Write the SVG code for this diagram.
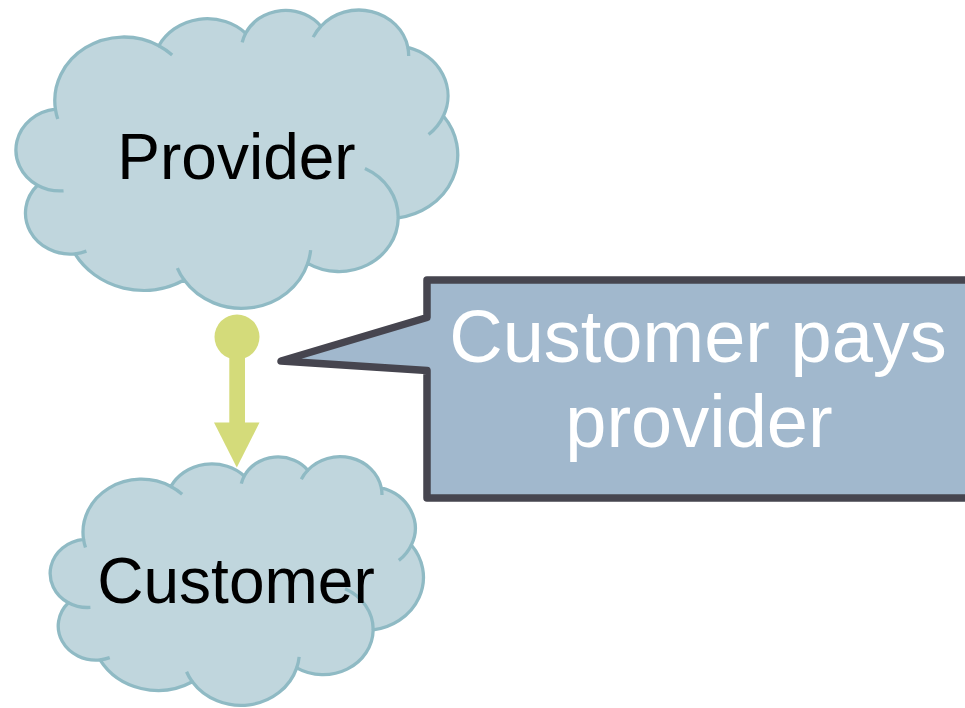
<svg xmlns="http://www.w3.org/2000/svg" xmlns:xlink="http://www.w3.org/1999/xlink" width="965" height="708" viewBox="0 0 965 708">
<style>
.cloud{fill:#c0d6dd;stroke:#8fbac4;stroke-width:3.3;vector-effect:non-scaling-stroke;stroke-linejoin:round}
.cloudline{fill:none;stroke:#8fbac4;stroke-width:3.3;vector-effect:non-scaling-stroke}
.lbl{font-family:"Liberation Sans",Arial,sans-serif;font-size:64px;fill:#000;text-anchor:middle}
.call{font-family:"Liberation Sans",Arial,sans-serif;font-size:74px;fill:#ffffff;text-anchor:middle}
.conn{fill:#d4db7a;stroke:none}
</style>
<defs>
<g id="cloudShape">
<path class="cloud" d="M39,143.7 A67.53,91.9 0 0 1 140,51.92 A53.33,72.67 0 0 1 224.8,33.8 A43.65,59.45 0 0 1 298.35,23.8 A48.57,65.95 0 0 1 383.24,54.26 A53.33,72.73 0 0 1 417.98,153.54 A67.75,92.2 0 0 1 373.83,300.93 A57.85,78.67 0 0 1 285.43,366.7 A67.52,92.15 0 0 1 164.78,390.9 A77.2,105.43 0 0 1 58.1,352.88 A43.6,59.18 0 0 1 21.45,253.7 A43.45,59.45 0 0 1 39,143.7 Z"/>
<path class="cloudline" d="M46.93,261.77 A43.45,59.45 0 0 1 21.45,253.7 M69.28,348.99 A43.6,59.18 0 0 1 58.1,352.88 M164.78,390.9 A67.52,92.15 0 0 1 158.1,373.49 M288.27,347.51 A67.52,92.15 0 0 1 285.43,366.7 M341.29,229.54 A57.85,78.67 0 0 1 373.83,300.93 M417.98,153.54 A53.33,72.73 0 0 1 403.5,180.3 M383.24,54.26 A48.57,65.95 0 0 1 384.01,66.9 M290.78,39.52 A48.57,65.95 0 0 1 298.35,23.8 M221.41,47.2 A43.65,59.45 0 0 1 224.8,33.8 M140,51.92 A67.53,91.9 0 0 1 153.01,65.42 M41.27,157.89 A67.53,91.9 0 0 1 39,143.7"/>
</g>
</defs>
<g id="provider">
<use xlink:href="#cloudShape" href="#cloudShape" transform="translate(15.5,9.8) scale(1.0238,0.6914)"/>
<text class="lbl" x="236.5" y="179">Provider</text>
</g>
<g id="customer">
<use xlink:href="#cloudShape" href="#cloudShape" transform="translate(49.8,456.5) scale(0.865,0.5764)"/>
<text class="lbl" x="236" y="603">Customer</text>
</g>
<g id="connectors">
<circle class="conn" cx="237" cy="337" r="22.5"/>
<rect class="conn" x="229.3" y="350" width="15.7" height="73"/>
<polygon class="conn" points="214,422.5 259.5,422.5 236.8,467.5"/>
</g>
<g id="callout">
<path d="M427,280 H1010 V498 H427 V370.5 L281,361 L427,317.5 Z" fill="#a1b8cd" stroke="#46454f" stroke-width="7.5" stroke-linejoin="round"/>
<text class="call" x="698" y="362">Customer pays</text>
<text class="call" x="699" y="447">provider</text>
</g>
</svg>
